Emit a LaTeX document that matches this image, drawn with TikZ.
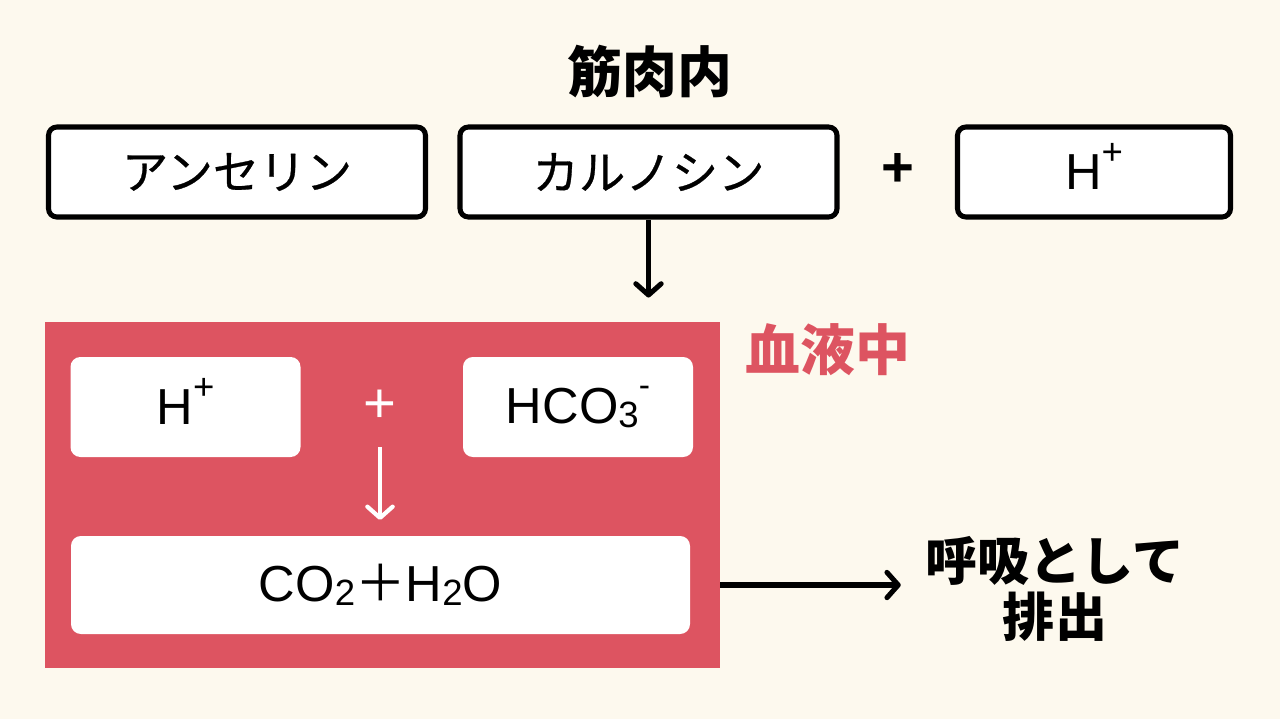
\documentclass[tikz,border=0pt]{standalone}
\usepackage{fontspec}
\setmainfont{Noto Sans CJK JP}
\newfontfamily\jpmed{Noto Sans CJK JP}[FakeBold=0.6]
\newfontfamily\latin{Liberation Sans}
\usetikzlibrary{arrows.meta,positioning}
\definecolor{cream}{HTML}{FDF9EE}
\definecolor{blood}{HTML}{DD5461}
\newdimen\pxu \pxu=0.025cm
\newcommand{\sub}[1]{\raisebox{-0.08em}{\fontsize{26}{26}\selectfont #1}}
\newcommand{\chg}[1]{\smash{\raisebox{0.5em}{\fontsize{26}{26}\selectfont #1}}}
\tikzset{
  namebox/.style={draw=black,line width=3.6pt,fill=white,rounded corners=6pt,
    minimum width=377\pxu,minimum height=90\pxu,inner sep=0pt,
    font=\jpmed\fontsize{33}{36}\selectfont},
  ionbox/.style={fill=white,rounded corners=7pt,minimum width=230\pxu,
    minimum height=100\pxu,inner sep=0pt,font=\latin\fontsize{36}{40}\selectfont},
  heading/.style={font=\bfseries\fontsize{39}{44}\selectfont},
  arr/.style={line width=3.6pt,-{Straight Barb[round,length=8pt,width=18pt]}},
}
\begin{document}
\begin{tikzpicture}[x=0.025cm,y=-0.025cm]
  \fill[cream] (0,0) rectangle (1280,719);
  \useasboundingbox (0,0) rectangle (1280,719);
  % muscle side
  \node[heading] (muscle) at (650,72) {筋肉内};
  \node[namebox] (anserine) at (237,172) {アンセリン};
  \node[namebox] (carnosine) at (648.5,172) {カルノシン};
  \node[font=\latin\bfseries\fontsize{40}{40}\selectfont] (plus1) at (898,170) {+};
  \node[namebox,minimum width=273\pxu,font=\latin\fontsize{36}{40}\selectfont] (hion) at (1094,172) {H\chg{+}};
  % blood side
  \node[fill=blood,minimum width=675\pxu,minimum height=346\pxu,inner sep=0pt] (blood) at (382.5,495) {};
  \node[heading,text=blood] (bloodlabel) at (828,350) {血液中};
  \node[ionbox] (hblood) at (185.5,407) {H\chg{+}};
  \node[text=white,font=\latin\fontsize{40}{40}\selectfont] (plus2) at (380,406) {+};
  \node[ionbox] (bicarb) at (578,407) {HCO\sub{3}\raisebox{0.55em}{\fontsize{24}{24}\selectfont -}};
  \node[ionbox,minimum width=619\pxu,minimum height=98\pxu] (water) at (380.5,585) {CO\sub{2}{\normalfont\fontsize{36}{40}\selectfont ＋}H\sub{2}O};
  \node[heading,font=\bfseries\fontsize{37}{40}\selectfont,align=center] (exhale) at (1055,589) {呼吸として\\排出};
  \coordinate (wtop) at (380,447);
  \coordinate (wend) at (380,520);
  % arrows
  \draw[arr] (carnosine.south) -- ++(0,78);
  \draw[arr,white,line width=3pt] (wtop) -- (wend);
  \draw[arr] (blood.east |- water) -- ([xshift=-20\pxu]exhale.west |- water);
\end{tikzpicture}
\end{document}
